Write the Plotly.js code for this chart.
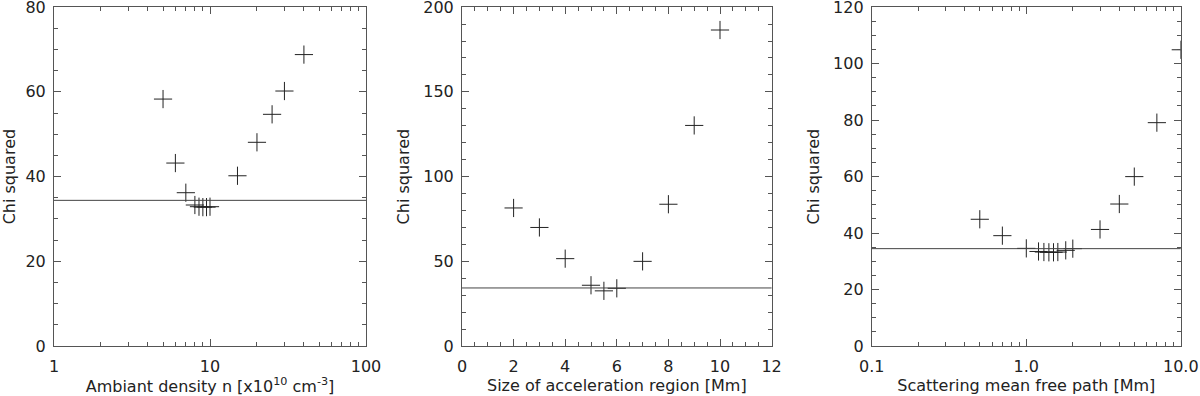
<!DOCTYPE html>
<html>
<head>
<meta charset="utf-8">
<script src="https://cdn.plot.ly/plotly-3.0.1.min.js"></script>
<style>
  html, body { margin: 0; padding: 0; background: #fff; }
  #chart { width: 1200px; height: 396px; }
</style>
</head>
<body>
<div id="chart"></div>
<script>
// Chi squared scans for three model parameters

// panel 1: ambient density n [x10^10 cm^-3]
const densityX = [5, 6, 7, 8, 8.5, 9, 9.5, 10, 15, 20, 25, 30, 40];
const densityChi = [58.3, 43.2, 36.2, 33.3, 32.9, 32.8, 32.8, 32.9, 40.2, 48.1, 54.7, 60.2, 68.8];
const densityLimit = 34.4;

// panel 2: size of acceleration region [Mm]
const sizeX = [2, 3, 4, 5, 5.5, 6, 7, 8, 9, 10];
const sizeChi = [81.5, 70.0, 51.6, 35.9, 32.6, 34.1, 50.0, 83.7, 130.2, 186.5];
const sizeLimit = 34.3;

// panel 3: scattering mean free path [Mm]
const mfpX = [0.5, 0.7, 1.0, 1.2, 1.3, 1.4, 1.5, 1.6, 1.8, 2.0, 3, 4, 5, 7, 10];
const mfpChi = [44.9, 39.1, 34.6, 33.5, 33.3, 33.2, 33.2, 33.3, 33.9, 34.5, 41.3, 50.3, 60.0, 79.1, 104.9];
const mfpLimit = 34.5;

const mfpTickVals = [0.1, 1, 10];
const mfpTickText = ['0.1', '1.0', '10.0'];

const ink = '#222';
const frame = '#555';
const font = { family: 'DejaVu Sans, sans-serif', size: 16, color: ink };

const crossTrace = (x, y, axis) => ({
    x, y,
    xaxis: 'x' + axis,
    yaxis: 'y' + axis,
    type: 'scatter',
    mode: 'markers',
    marker: { symbol: 'cross-thin', size: 13, color: ink, line: { color: ink, width: 1 } },
    showlegend: false,
    hoverinfo: 'x+y'
});

const minorTicks = step => ({ dtick: step, ticklen: 4, tickcolor: frame, ticks: 'inside', showgrid: false });

const baseAxis = {
    showline: true,
    linecolor: frame,
    linewidth: 1,
    mirror: 'allticks',
    ticks: 'inside',
    ticklen: 7,
    tickcolor: frame,
    tickwidth: 1,
    showgrid: false,
    zeroline: false,
    automargin: false,
    ticklabeloverflow: 'allow',
    tickfont: font
};

const xAxis = (domain, title, extra) => Object.assign({}, baseAxis, {
    domain,
    ticklabelstandoff: 6,
    title: { text: title, font, standoff: 0 }
}, extra);

const yAxis = (range, dtick, minorStep, anchor) => Object.assign({}, baseAxis, {
    domain: [0.126, 0.982],
    range,
    dtick,
    tick0: 0,
    anchor,
    ticklabelstandoff: 4,
    minor: minorTicks(minorStep),
    title: { text: 'Chi squared', font, standoff: 9 }
});

const data = [
    crossTrace(densityX, densityChi, ''),
    crossTrace(sizeX, sizeChi, '2'),
    crossTrace(mfpX, mfpChi, '3')
];

const limitLine = (xref, yref, y) => ({
    type: 'line', xref: xref + ' domain', yref,
    x0: 0, x1: 1, y0: y, y1: y,
    line: { color: '#444', width: 1 }
});

const layout = {
    width: 1200,
    height: 396,
    margin: { l: 0, r: 0, t: 0, b: 0 },
    paper_bgcolor: '#fff',
    plot_bgcolor: '#fff',
    font,
    xaxis: xAxis([0.045, 0.305], 'Ambiant density n [x10<sup>10</sup> cm<sup>-3</sup>]', {
        type: 'log', range: [0, 2], dtick: 1, anchor: 'y', minor: minorTicks('D1')
    }),
    yaxis: yAxis([0, 80], 20, 5, 'x'),
    xaxis2: xAxis([0.385, 0.643], 'Size of acceleration region [Mm]', {
        range: [0, 12], dtick: 2, tick0: 0, anchor: 'y2', minor: minorTicks(0.5)
    }),
    yaxis2: yAxis([0, 200], 50, 10, 'x2'),
    xaxis3: xAxis([0.7265, 0.984], 'Scattering mean free path [Mm]', {
        type: 'log', range: [-1, 1], tickmode: 'array', tickvals: mfpTickVals, ticktext: mfpTickText,
        anchor: 'y3', minor: minorTicks('D1')
    }),
    yaxis3: yAxis([0, 120], 20, 5, 'x3'),
    shapes: [
        limitLine('x', 'y', densityLimit),
        limitLine('x2', 'y2', sizeLimit),
        limitLine('x3', 'y3', mfpLimit)
    ]
};

Plotly.newPlot('chart', data, layout, { displayModeBar: false, staticPlot: true });
</script>
</body>
</html>
